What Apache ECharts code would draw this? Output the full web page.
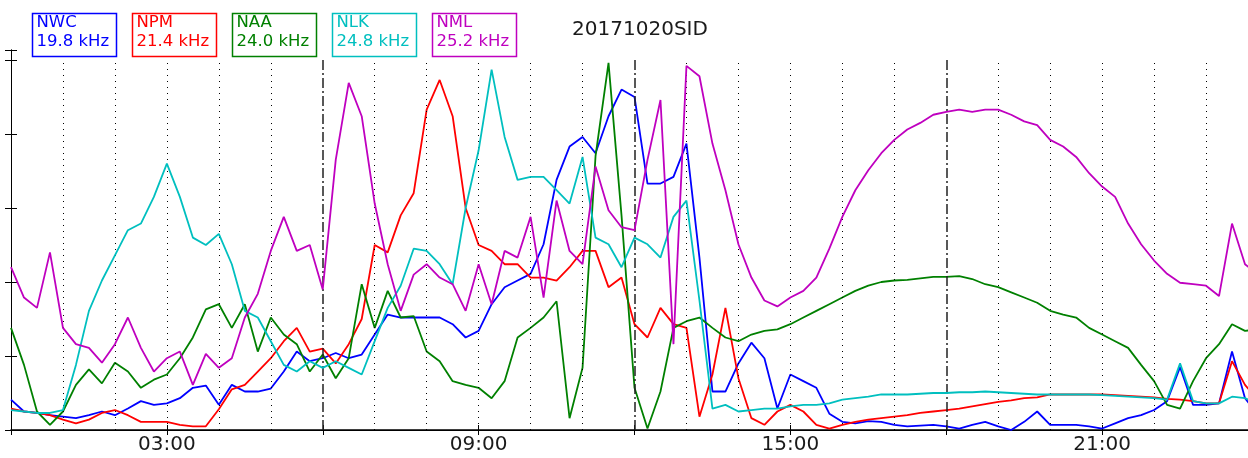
<!DOCTYPE html>
<html>
<head>
<meta charset="utf-8">
<title>20171020SID</title>
<script src="https://cdn.jsdelivr.net/npm/echarts@6/dist/echarts.min.js"></script>
<style>
  html, body { margin: 0; padding: 0; background: #fff; }
  #chart { width: 1248px; height: 458px; }
</style>
</head>
<body>
<div id="chart"></div>
<script>
// sample times in hours (UT), every 15 minutes
const hours = Array.from({ length: 97 }, (_, i) => i / 4)

// signal levels (arbitrary units, one tick = 1)
const nwc = [0.41, 0.25, 0.23, 0.20, 0.18, 0.16, 0.20, 0.25, 0.20, 0.29, 0.39, 0.34, 0.36, 0.43, 0.57, 0.60,
  0.34, 0.61, 0.52, 0.52, 0.56, 0.79, 1.06, 0.93, 0.97, 1.04, 0.97, 1.02, 1.29, 1.56, 1.52, 1.52,
  1.52, 1.52, 1.43, 1.25, 1.34, 1.70, 1.93, 2.02, 2.11, 2.51, 3.38, 3.83, 3.96, 3.74, 4.24, 4.60,
  4.50, 3.33, 3.33, 3.42, 3.87, 2.33, 0.52, 0.52, 0.90, 1.18, 0.97, 0.29, 0.75, 0.66, 0.57, 0.22,
  0.11, 0.09, 0.12, 0.11, 0.07, 0.05, 0.06, 0.07, 0.05, 0.02, 0.07, 0.11, 0.05, 0.00, 0.11, 0.25,
  0.07, 0.07, 0.07, 0.05, 0.02, 0.09, 0.16, 0.20, 0.27, 0.39, 0.85, 0.34, 0.34, 0.36, 1.06, 0.43, 0.20]
const npm = [0.29, 0.25, 0.23, 0.20, 0.14, 0.09, 0.14, 0.23, 0.27, 0.20, 0.11, 0.11, 0.11, 0.07, 0.05, 0.05,
  0.28, 0.55, 0.61, 0.79, 0.97, 1.20, 1.38, 1.06, 1.10, 0.90, 1.16, 1.50, 2.50, 2.40, 2.90, 3.20,
  4.33, 4.73, 4.24, 3.00, 2.50, 2.42, 2.24, 2.24, 2.06, 2.06, 2.02, 2.20, 2.42, 2.42, 1.93, 2.06,
  1.43, 1.25, 1.65, 1.43, 1.38, 0.18, 0.75, 1.65, 0.70, 0.16, 0.07, 0.25, 0.34, 0.25, 0.07, 0.02,
  0.07, 0.11, 0.14, 0.16, 0.18, 0.20, 0.23, 0.25, 0.27, 0.29, 0.32, 0.35, 0.38, 0.40, 0.43, 0.44,
  0.48, 0.48, 0.48, 0.48, 0.48, 0.47, 0.46, 0.45, 0.44, 0.42, 0.41, 0.39, 0.36, 0.36, 0.93, 0.61, 0.40]
const naa = [1.38, 0.88, 0.25, 0.07, 0.25, 0.61, 0.82, 0.63, 0.91, 0.79, 0.57, 0.68, 0.75, 0.97, 1.25, 1.63,
  1.70, 1.38, 1.70, 1.06, 1.52, 1.29, 1.16, 0.79, 1.02, 0.70, 0.97, 1.97, 1.38, 1.88, 1.52, 1.54,
  1.06, 0.93, 0.66, 0.61, 0.57, 0.43, 0.66, 1.25, 1.38, 1.52, 1.74, 0.16, 0.84, 3.70, 4.96, 2.90,
  0.57, 0.02, 0.52, 1.38, 1.47, 1.52, 1.38, 1.25, 1.20, 1.29, 1.34, 1.36, 1.43, 1.52, 1.61, 1.70,
  1.79, 1.88, 1.95, 2.00, 2.02, 2.03, 2.05, 2.07, 2.07, 2.08, 2.04, 1.97, 1.93, 1.86, 1.79, 1.72,
  1.61, 1.56, 1.52, 1.38, 1.29, 1.20, 1.11, 0.88, 0.66, 0.34, 0.29, 0.66, 0.97, 1.16, 1.43, 1.34, 1.36]
const nlk = [0.27, 0.25, 0.23, 0.23, 0.27, 0.88, 1.61, 2.02, 2.36, 2.70, 2.79, 3.15, 3.60, 3.15, 2.60, 2.50,
  2.65, 2.24, 1.61, 1.52, 1.20, 0.88, 0.79, 0.93, 0.84, 0.93, 0.84, 0.75, 1.20, 1.65, 1.95, 2.45,
  2.42, 2.24, 1.97, 3.00, 3.78, 4.87, 3.96, 3.38, 3.42, 3.42, 3.24, 3.06, 3.69, 2.60, 2.51, 2.20,
  2.60, 2.51, 2.33, 2.88, 3.10, 1.75, 0.29, 0.34, 0.25, 0.27, 0.29, 0.29, 0.32, 0.34, 0.34, 0.36,
  0.41, 0.43, 0.45, 0.48, 0.48, 0.48, 0.49, 0.50, 0.50, 0.51, 0.51, 0.52, 0.51, 0.50, 0.49, 0.48,
  0.48, 0.48, 0.48, 0.48, 0.47, 0.46, 0.45, 0.44, 0.43, 0.41, 0.90, 0.39, 0.36, 0.36, 0.45, 0.43, 0.35]
const nml = [2.20, 1.79, 1.65, 2.40, 1.38, 1.16, 1.11, 0.91, 1.16, 1.52, 1.11, 0.79, 0.97, 1.06, 0.61, 1.03,
  0.84, 0.97, 1.52, 1.84, 2.42, 2.88, 2.42, 2.50, 1.90, 3.65, 4.69, 4.24, 3.06, 2.24, 1.61, 2.10,
  2.24, 2.06, 1.97, 1.61, 2.24, 1.70, 2.42, 2.33, 2.88, 1.79, 3.10, 2.42, 2.24, 3.56, 2.97, 2.74,
  2.70, 3.65, 4.46, 1.16, 4.92, 4.78, 3.87, 3.24, 2.51, 2.06, 1.75, 1.67, 1.79, 1.88, 2.06, 2.45,
  2.88, 3.24, 3.51, 3.74, 3.92, 4.06, 4.15, 4.26, 4.30, 4.33, 4.30, 4.33, 4.33, 4.26, 4.17, 4.12,
  3.92, 3.83, 3.69, 3.47, 3.29, 3.15, 2.79, 2.51, 2.29, 2.11, 1.99, 1.97, 1.95, 1.81, 2.79, 2.24, 2.10]

const stations = ['NWC', 'NPM', 'NAA', 'NLK', 'NML']
const freqs = ['19.8 kHz', '21.4 kHz', '24.0 kHz', '24.8 kHz', '25.2 kHz']
const colors = ['#0000ff', '#ff0000', '#008000', '#00bfbf', '#bf00bf']
const seriesData = [nwc, npm, naa, nlk, nml]

const tickHours = [3, 9, 15, 21]
const tickLabels = ['03:00', '09:00', '15:00', '21:00']
const dashDotHours = [6, 12, 18]
const dottedHours = [1, 2, 3, 4, 5, 7, 8, 9, 10, 11, 13, 14, 15, 16, 17, 19, 20, 21, 22, 23]

const font = 'DejaVu Sans'

// hour guide lines
const guideLines = []
dottedHours.forEach(h => {
  guideLines.push([
    { coord: [h, 0], lineStyle: { color: '#000', width: 1, type: [1, 5] } },
    { coord: [h, 5] }
  ])
})
dashDotHours.forEach(h => {
  guideLines.push([
    { coord: [h, 0], lineStyle: { color: '#222', width: 1.5, type: [10, 3, 2, 3] } },
    { coord: [h, 5] }
  ])
})

const series = stations.map((name, k) => ({
  name: name,
  type: 'line',
  showSymbol: false,
  symbol: 'none',
  data: hours.map((h, i) => [h, seriesData[k][i]]),
  lineStyle: { color: colors[k], width: 1.8 },
  itemStyle: { color: colors[k] },
  z: 2 + k
}))
series[0].markLine = {
  silent: true,
  symbol: 'none',
  label: { show: false },
  animation: false,
  data: guideLines
}

// legend boxes drawn as graphics
const legendBoxes = []
stations.forEach((name, k) => {
  legendBoxes.push({
    type: 'rect',
    z: 100,
    shape: { x: 32.5 + 100 * k, y: 13.5, width: 84, height: 43 },
    style: { fill: '#fff', stroke: colors[k], lineWidth: 1.5 }
  })
  legendBoxes.push({
    type: 'text',
    z: 101,
    x: 36.5 + 100 * k,
    y: 13,
    style: {
      text: name + '\n' + freqs[k],
      fill: colors[k],
      font: '16.5px "DejaVu Sans"',
      lineHeight: 19
    }
  })
})

const chart = echarts.init(document.getElementById('chart'))
chart.setOption({
  animation: false,
  backgroundColor: '#fff',
  title: {
    text: '20171020SID',
    left: 635,
    top: 15,
    textAlign: 'center',
    textStyle: { fontFamily: font, fontSize: 20, fontWeight: 'normal', color: '#1a1a1a' }
  },
  // plot runs past the right edge of the picture, like the reference
  grid: { left: 11, top: 50, width: 1247, height: 380, outerBoundsMode: 'none', containLabel: false },
  xAxis: [{
    type: 'value',
    min: 0,
    max: 24,
    interval: 3,
    axisLine: { show: true, lineStyle: { color: '#000', width: 1 } },
    axisTick: { show: true, inside: true, length: 5, lineStyle: { color: '#000' } },
    axisLabel: {
      margin: 5,
      color: '#1a1a1a',
      fontFamily: font,
      fontSize: 20,
      formatter: v => {
        const i = tickHours.indexOf(v)
        return i >= 0 ? tickLabels[i] : ''
      }
    },
    splitLine: { show: false }
  }, {
    type: 'value',
    position: 'top',
    min: 0,
    max: 24,
    interval: 3,
    axisLine: { show: true, lineStyle: { color: '#000', width: 1.5 } },
    axisTick: { show: true, inside: true, length: 5, lineStyle: { color: '#000' } },
    axisLabel: { show: false },
    splitLine: { show: false }
  }],
  yAxis: [{
    type: 'value',
    min: 0,
    max: 5.135,
    interval: 1,
    axisLine: { show: true, lineStyle: { color: '#000', width: 1 } },
    axisTick: { show: true, inside: true, length: 6, lineStyle: { color: '#000' } },
    axisLabel: { show: false },
    splitLine: { show: false }
  }, {
    type: 'value',
    position: 'right',
    min: 0,
    max: 5.135,
    interval: 1,
    axisLine: { show: true, lineStyle: { color: '#000', width: 1 } },
    axisTick: { show: true, inside: true, length: 6, lineStyle: { color: '#000' } },
    axisLabel: { show: false },
    splitLine: { show: false }
  }],
  graphic: legendBoxes,
  series: series
})
</script>
</body>
</html>
